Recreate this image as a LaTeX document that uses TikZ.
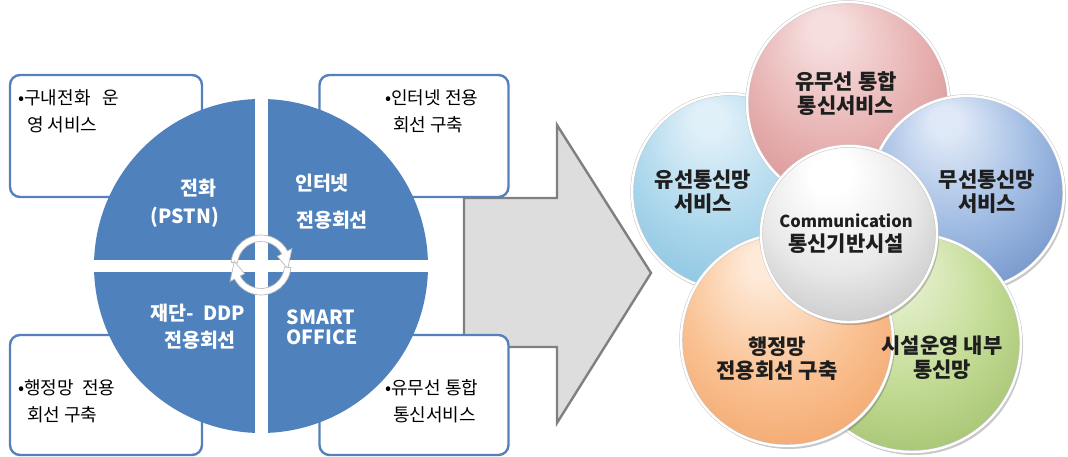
\documentclass[tikz,border=0pt]{standalone}
\usepackage{fontspec}
\setmainfont{Noto Sans CJK KR}
\usetikzlibrary{shadows}
\definecolor{qblue}{RGB}{79,129,189}
\definecolor{boxblue}{RGB}{86,128,188}
\definecolor{arrowfill}{RGB}{221,221,221}
\definecolor{arrowdraw}{RGB}{128,128,128}
\definecolor{txtdark}{RGB}{30,30,30}
\definecolor{pinkA}{RGB}{246,222,222}\definecolor{pinkM}{RGB}{232,178,178}\definecolor{pinkB}{RGB}{198,112,112}
\definecolor{lblueA}{RGB}{224,240,249}\definecolor{lblueM}{RGB}{172,215,236}\definecolor{lblueB}{RGB}{100,174,212}
\definecolor{rblueA}{RGB}{222,232,247}\definecolor{rblueM}{RGB}{158,186,226}\definecolor{rblueB}{RGB}{66,106,176}
\definecolor{greenA}{RGB}{234,243,214}\definecolor{greenM}{RGB}{196,220,150}\definecolor{greenB}{RGB}{130,166,70}
\definecolor{orangeA}{RGB}{254,234,216}\definecolor{orangeM}{RGB}{250,194,148}\definecolor{orangeB}{RGB}{236,138,66}
\definecolor{whiteA}{RGB}{255,255,255}\definecolor{whiteM}{RGB}{232,232,232}\definecolor{whiteB}{RGB}{160,160,160}
\pgfdeclareradialshading{pinkshade}{\pgfpoint{-6bp}{20bp}}{color(0bp)=(pinkA); color(4bp)=(pinkA); color(21bp)=(pinkM); color(50bp)=(pinkB)}
\pgfdeclareradialshading{lblueshade}{\pgfpoint{-6bp}{20bp}}{color(0bp)=(lblueA); color(4bp)=(lblueA); color(21bp)=(lblueM); color(50bp)=(lblueB)}
\pgfdeclareradialshading{rblueshade}{\pgfpoint{-6bp}{20bp}}{color(0bp)=(rblueA); color(4bp)=(rblueA); color(21bp)=(rblueM); color(50bp)=(rblueB)}
\pgfdeclareradialshading{greenshade}{\pgfpoint{-6bp}{20bp}}{color(0bp)=(greenA); color(4bp)=(greenA); color(21bp)=(greenM); color(50bp)=(greenB)}
\pgfdeclareradialshading{orangeshade}{\pgfpoint{-6bp}{20bp}}{color(0bp)=(orangeA); color(4bp)=(orangeA); color(21bp)=(orangeM); color(50bp)=(orangeB)}
\pgfdeclareradialshading{whiteshade}{\pgfpoint{-6bp}{20bp}}{color(0bp)=(whiteA); color(6bp)=(whiteA); color(22bp)=(whiteM); color(50bp)=(whiteB)}
\tikzset{
  infobox/.style={draw=boxblue, line width=2.4pt, fill=white, rounded corners=10pt, inner sep=0pt},
  boxtxt/.style={anchor=west, inner sep=0pt, font=\fontsize{18}{20}\selectfont, text=black},
  quadtxt/.style={inner sep=0pt, font=\bfseries\fontsize{19.5}{21}\selectfont, text=white},
  cyc/.style={fill=white, draw=gray!55, line width=0.7pt},
  ballnode/.style={circle, shade, draw=gray!45, double=white, double distance=2.4pt, line width=0.5pt, inner sep=0pt,
     drop shadow={shadow xshift=2pt, shadow yshift=-3pt, opacity=0.3, fill=black!70}},
  balltxt/.style={align=center, inner sep=0pt, text=txtdark, font=\bfseries\fontsize{21}{24}\selectfont},
}
\begin{document}
\begin{tikzpicture}[x=1pt,y=-1pt]
\useasboundingbox (0,0) rectangle (1068,457);
% big gray arrow
\draw[fill=arrowfill, draw=arrowdraw, line width=2.4pt, line join=miter]
  (464,198) coordinate (ar1) -- (557,198) -- (557,125) -- (651,273) coordinate (artip)
  -- (557,423) -- (557,347) -- (464,347) -- cycle;
% info boxes
\node[infobox, minimum width=192pt, minimum height=122pt] (boxTL) at (106,136) {};
\node[infobox, minimum width=189pt, minimum height=122pt] (boxTR) at (414,136) {};
\node[infobox, minimum width=192pt, minimum height=120pt] (boxBL) at (106,395) {};
\node[infobox, minimum width=189pt, minimum height=120pt] (boxBR) at (414,395) {};
% box texts
\node[boxtxt] (tTL1) at (18,98) {•구내전화~~~운};
\node[boxtxt] (tTL2) at (27,125) {영 서비스};
\node[boxtxt] (tTR1) at (385,98) {•인터넷 전용};
\node[boxtxt] (tTR2) at (393,125) {회선 구축};
\node[boxtxt] (tBL1) at (18,388) {•행정망~~전용};
\node[boxtxt] (tBL2) at (27,415) {회선 구축};
\node[boxtxt] (tBR1) at (385,388) {•유무선 통합};
\node[boxtxt] (tBR2) at (393,415) {통신서비스};
% quadrant disc
\node[circle, fill=qblue, minimum size=334pt, inner sep=0pt] (disc) at (261,266) {};
\begin{scope}
\clip (261,266) circle (168);
\fill[white] (254.5,90) rectangle (267.5,440);
\fill[white] (88,260) rectangle (434,272);
\end{scope}
% cycle arrows
\begin{scope}[shift={(261,265)}, yscale=-1]
\filldraw[cyc] (175:30) arc[start angle=175, end angle=28, radius=30] -- (28:35) -- (-8:27) -- (28:18.5) -- (28:23.5) arc[start angle=28, end angle=175, radius=23.5] -- cycle;
\filldraw[cyc] (-5:30) arc[start angle=-5, end angle=-152, radius=30] -- (-152:35) -- (-188:27) -- (-152:18.5) -- (-152:23.5) arc[start angle=-152, end angle=-5, radius=23.5] -- cycle;
\end{scope}
% quadrant labels
\node[quadtxt] (q1a) at (198,188) {전화};
\node[quadtxt] (q1b) at (185,217) {(PSTN)};
\node[quadtxt] (q2a) at (322,183) {인터넷};
\node[quadtxt] (q2b) at (332,220) {전용회선};
\node[quadtxt] (q3a) at (198,313) {재단-~~DDP};
\node[quadtxt] (q3b) at (200,340) {전용회선};
\node[quadtxt] (q4a) at (321,317) {SMART};
\node[quadtxt] (q4b) at (322,337) {OFFICE};
% right balls
\node[ballnode, shading=lblueshade, minimum size=196pt] (lblue) at (730,192) {};
\node[ballnode, shading=pinkshade, minimum size=202pt] (pink) at (848,103) {};
\node[ballnode, shading=rblueshade, minimum size=194pt] (rblue) at (967,193) {};
\node[ballnode, shading=greenshade, minimum size=218pt] (green) at (912,343) {};
\node[ballnode, shading=orangeshade, minimum size=212pt] (orange) at (787,340) {};
\node[ballnode, shading=whiteshade, minimum size=176pt] (center) at (849,234) {};
% ball texts
\node[balltxt] (tpink) at (846,94) {유무선 통합\\통신서비스};
\node[balltxt] (tlblue) at (703,192) {유선통신망\\서비스};
\node[balltxt] (trblue) at (987,192) {무선통신망\\서비스};
\node[balltxt] (tcenter) at (846,234) {{\fontsize{16.5}{24}\selectfont Communication}\\통신기반시설};
\node[balltxt] (torange) at (777,359) {행정망\\전용회선 구축};
\node[balltxt] (tgreen) at (942,358) {시설운영 내부\\통신망};
\end{tikzpicture}
\end{document}
